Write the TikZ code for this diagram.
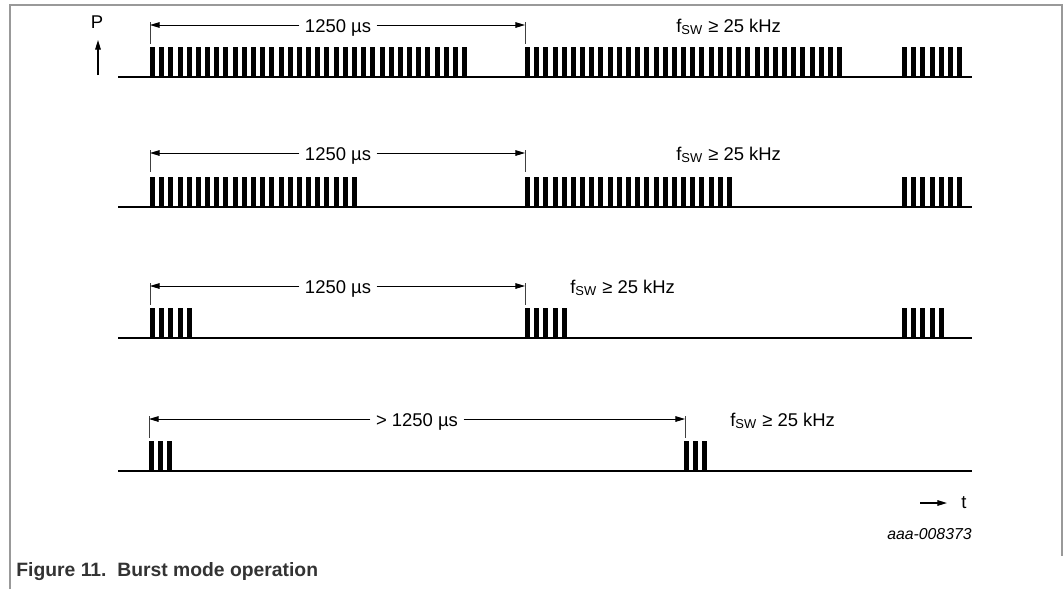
\documentclass[tikz,border=0pt]{standalone}
\usepackage{fontspec}
\setmainfont{Liberation Sans}
\usetikzlibrary{arrows.meta}

\newcommand{\fsw}{f\textsubscript{SW} ≥ 25 kHz}

\begin{document}
\begin{tikzpicture}[
    x=0.02cm, y=-0.02cm,
    >={Triangle[length=5.5pt,width=3.2pt]},
    every node/.style={font=\fontsize{10.5}{12}\selectfont, inner sep=0pt},
    frame/.style={draw=black!40, line width=0.7pt},
    base/.style={line width=1.4pt},
    dim/.style={->, line width=0.55pt},
    tick/.style={line width=0.5pt, black!75},
    axis/.style={->, line width=0.7pt},
    lbl/.style={anchor=base, inner xsep=3pt},
    freq/.style={anchor=base west},
  ]
  \useasboundingbox (0,0) rectangle (1064,589);
  %% ---- Frame ----
  \draw[frame] (10,589) -- (10,5) -- (1062,5) -- (1062,556);
  %% ---- Axes ----
  \node (P) at (97,22) {P};
  \coordinate (pbot) at (98,75);
  \coordinate (ptop) at (98,40);
  \draw[axis] (pbot) -- (ptop);
  \coordinate (tbeg) at (920,503);
  \node[anchor=west] (t) at (961,503) {t};
  \draw[axis] (tbeg) -- ([xshift=-8pt]t.west);
  %% ---- Baselines ----
  \foreach \yb in {77,207,338,471}
    \draw[base] (118,\yb) -- (972,\yb);
  %% ---- Bursts: start x / baseline y / pulse count ----
  \foreach \xs/\yb/\n in {150/77/35, 525/77/35, 902/77/7,
                          150/207/23, 525/207/23, 902/207/7,
                          150/338/5, 525/338/5, 902/338/5,
                          149/471/3, 684/471/3}
    \foreach \k in {1,...,\n}
      \fill (\xs+\k*9.18-9.18,\yb) rectangle ++(5,-30);
  %% ---- Period markers ----
  \foreach \xa/\xb/\ya in {150/525/25, 150/525/153, 150/525/286, 149/685/419} {
    \draw[tick] (\xa,\ya-3) -- (\xa,\ya+19);
    \draw[tick] (\xb,\ya-3) -- (\xb,\ya+19);
  }
  % row 1
  \coordinate (a1) at (150,25);
  \coordinate (b1) at (525,25);
  \node[lbl] (l1) at (338,32) {1250 µs};
  \draw[dim] (a1 -| l1.west) -- (a1);
  \draw[dim] (b1 -| l1.east) -- (b1);
  \node[freq] (f1) at (676,32) {\fsw};
  % row 2
  \coordinate (a2) at (150,153);
  \coordinate (b2) at (525,153);
  \node[lbl] (l2) at (338,160) {1250 µs};
  \draw[dim] (a2 -| l2.west) -- (a2);
  \draw[dim] (b2 -| l2.east) -- (b2);
  \node[freq] (f2) at (676,160) {\fsw};
  % row 3
  \coordinate (a3) at (150,286);
  \coordinate (b3) at (525,286);
  \node[lbl] (l3) at (338,293) {1250 µs};
  \draw[dim] (a3 -| l3.west) -- (a3);
  \draw[dim] (b3 -| l3.east) -- (b3);
  \node[freq] (f3) at (570,293) {\fsw};
  % row 4
  \coordinate (a4) at (149,419);
  \coordinate (b4) at (685,419);
  \node[lbl] (l4) at (417,426) {> 1250 µs};
  \draw[dim] (a4 -| l4.west) -- (a4);
  \draw[dim] (b4 -| l4.east) -- (b4);
  \node[freq] (f4) at (730,426) {\fsw};
  %% ---- Figure id and caption ----
  \node[anchor=east, font=\fontsize{9}{11}\selectfont\itshape] (id) at (972,534) {aaa-008373};
  \node[anchor=west, font=\fontsize{11}{13}\selectfont\bfseries, text=black!80] (cap) at (16,572)
    {Figure 11.\ \ Burst mode operation};
\end{tikzpicture}
\end{document}
